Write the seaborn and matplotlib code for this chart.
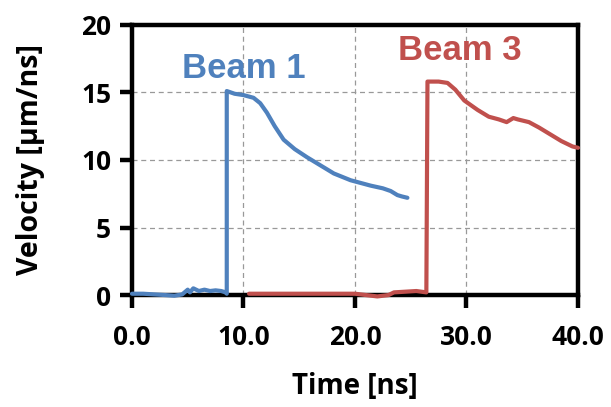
import matplotlib
matplotlib.use("Agg")
import matplotlib.pyplot as plt
import seaborn as sb
import numpy as np
import pandas as pd

# beam 1 trace (time in ns, velocity in um/ns)
beam1_t = [0.0, 1.0, 2.0, 3.0, 3.8, 4.5, 5.0, 5.2, 5.5, 6.0, 6.5, 7.0, 7.5, 8.0, 8.4, 8.5,
           8.5, 9.2, 10.0, 10.9, 11.5, 12.1, 12.8, 13.6, 14.6, 15.7, 16.9, 18.1, 19.6,
           21.4, 22.5, 23.2, 23.8, 24.2, 24.7]
beam1_v = [0.1, 0.1, 0.05, 0.0, -0.05, 0.05, 0.4, 0.2, 0.5, 0.3, 0.4, 0.3, 0.35, 0.3, 0.2, 0.1,
           15.1, 14.9, 14.8, 14.6, 14.2, 13.5, 12.5, 11.5, 10.8, 10.2, 9.6, 9.0, 8.5,
           8.1, 7.9, 7.7, 7.4, 7.3, 7.2]

# beam 3 trace
beam3_t = [10.5, 12.0, 14.0, 16.0, 18.0, 20.0, 21.0, 22.0, 23.0, 23.5, 24.5, 25.5, 26.4,
           26.5, 27.5, 28.3, 29.0, 29.8, 31.0, 32.0, 32.9, 33.6, 34.2, 34.6, 35.6, 36.5,
           37.5, 38.5, 39.5, 40.0]
beam3_v = [0.1, 0.1, 0.1, 0.1, 0.1, 0.1, 0.0, -0.1, 0.0, 0.2, 0.25, 0.3, 0.2,
           15.8, 15.8, 15.7, 15.2, 14.4, 13.7, 13.2, 13.0, 12.8, 13.1, 13.0, 12.8, 12.4,
           11.9, 11.4, 11.0, 10.9]

x_ticks = [0, 10, 20, 30, 40]
x_labels = ["0.0", "10.0", "20.0", "30.0", "40.0"]
y_ticks = [0, 5, 10, 15, 20]

blue = "#4F81BD"
red = "#C0504D"

sb.set_style("white")
plt.rcParams['font.family'] = ['Open Sans', 'DejaVu Sans']
plt.rcParams['text.color'] = 'black'
plt.rcParams['axes.labelcolor'] = 'black'

df = pd.concat([
	pd.DataFrame({"t": beam1_t, "v": beam1_v, "beam": "Beam 1"}),
	pd.DataFrame({"t": beam3_t, "v": beam3_v, "beam": "Beam 3"}),
])

fig = plt.figure(figsize=(6.11, 4.07), dpi=100)
ax = fig.add_axes([0.216, 0.275, 0.730, 0.664])
sb.lineplot(data=df, x="t", y="v", hue="beam", estimator=None, sort=False,
            palette={"Beam 1": blue, "Beam 3": red},
            linewidth=3, legend=False, ax=ax)
for ln in ax.get_lines():
	ln.set_zorder(3)
	ln.set_clip_on(False)

ax.set_xlim(0, 40)
ax.set_ylim(0, 20)
ax.set_xticks(x_ticks)
ax.set_xticklabels(x_labels)
ax.set_yticks(y_ticks)
ax.grid(True, color="#999999", linestyle=(0, (4, 3)), linewidth=0.9)
ax.set_axisbelow(True)
for s in ax.spines.values():
	s.set_visible(True)
	s.set_color("black")
	s.set_linewidth(3.2)
ax.tick_params(axis="x", direction="out", length=9, width=3.2, pad=12, labelsize=19, colors="black")
ax.tick_params(axis="y", direction="out", length=9, width=3.2, pad=6, labelsize=19, colors="black")
for lb in ax.get_xticklabels() + ax.get_yticklabels():
	lb.set_fontweight("bold")
ax.tick_params(bottom=True, left=True)

ax.set_xlabel("Time [ns]", fontsize=20, fontweight="bold", labelpad=15, color="black")
ax.set_ylabel("Velocity [µm/ns]", fontsize=20.5, fontweight="bold", labelpad=26, color="black")

ax.text(10.0, 16.8, "Beam 1", color=blue, fontsize=25, fontweight="bold",
        ha="center", va="center", family=["Liberation Sans", "DejaVu Sans"])
ax.text(29.4, 18.1, "Beam 3", color=red, fontsize=25, fontweight="bold",
        ha="center", va="center", family=["Liberation Sans", "DejaVu Sans"])

fig.savefig("out.png", dpi=100)
